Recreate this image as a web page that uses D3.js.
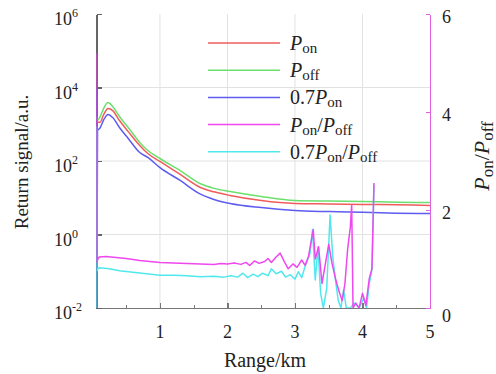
<!DOCTYPE html>
<html>
<head>
<meta charset="utf-8">
<script src="https://cdn.jsdelivr.net/npm/d3@7/dist/d3.min.js"></script>
<style>
  body { margin: 0; background: #fff; }
  .axis path, .axis line { shape-rendering: crispEdges; }
</style>
</head>
<body>
<div id="plot-container"></div>
<script>
// range (km) shared by the three signal curves
const range = [0.06, 0.065, 0.075, 0.11, 0.17, 0.23, 0.3, 0.4, 0.53, 0.7, 0.82, 1.0, 1.3, 1.6, 1.8, 2.04, 2.5, 3.0, 3.5, 4.0, 4.5, 5.0];
const pOn   = [1400, 1250, 1150, 1120, 1900, 2700, 2350, 1260, 630, 265, 160, 97, 43, 19, 14.5, 11.5, 8.4, 7.0, 6.8, 6.6, 6.4, 6.2];
const pOff  = [1600, 1400, 1300, 1550, 2800, 3900, 3030, 1620, 815, 320, 193, 117, 55, 24, 18, 14.8, 10.8, 8.4, 8.1, 7.9, 7.6, 7.4];
const p07On = [10000, 0.005, 680, 780, 1350, 1850, 1520, 815, 410, 170, 125, 66, 29.5, 12.5, 9, 7.0, 5.4, 4.5, 4.2, 4.0, 3.8, 3.7];

// ratio curves (right axis)
const ratioRange = [0.06, 0.065, 0.08, 0.1, 0.2, 0.35, 0.5, 0.7, 0.85, 1.0, 1.2, 1.4, 1.6, 1.8, 1.9, 2.0, 2.1, 2.2, 2.27, 2.33,
  2.4, 2.47, 2.55, 2.6, 2.65, 2.72, 2.78, 2.84, 2.9, 2.97, 3.03, 3.1, 3.15, 3.2, 3.27, 3.3, 3.35, 3.4, 3.45, 3.5,
  3.55, 3.6, 3.65, 3.7, 3.74, 3.78, 3.82, 3.84, 3.86, 3.9, 3.95, 4.0, 4.05, 4.1, 4.14, 4.17];
const ratio = [5.2, 0.93, 1.0, 1.04, 1.05, 1.03, 1.01, 0.97, 0.95, 0.93, 0.92, 0.91, 0.90, 0.89, 0.91, 0.90, 0.92, 0.89, 0.93, 0.87,
  0.96, 0.91, 0.95, 1.01, 0.93, 1.04, 1.12, 0.95, 0.80, 0.90, 0.83, 0.98, 0.87, 1.05, 1.6, 1.0, 1.25, 0.5, 0.9, 1.3,
  0.9, 0.6, 0.35, 0.15, 0.5, 1.2, 1.65, 2.1, 0.0, 0.1, 0.0, 0.3, 0.05, 0.6, 0.8, 2.55];

const ratio07Range = [0.06, 0.061, 0.065, 0.08, 0.1, 0.25, 0.4, 0.6, 0.8, 1.0, 1.2, 1.4, 1.6, 1.8, 1.95, 2.05, 2.15, 2.23, 2.3, 2.38,
  2.45, 2.52, 2.6, 2.65, 2.72, 2.8, 2.86, 2.93, 3.0, 3.05, 3.1, 3.15, 3.22, 3.26, 3.3, 3.34, 3.38, 3.42, 3.47, 3.52,
  3.56, 3.6, 3.64, 3.68, 3.72, 3.76, 3.82, 3.88, 3.95, 4.02, 4.06, 4.1, 4.14, 4.17];
const ratio07 = [0.0, 3.7, 0.75, 0.80, 0.82, 0.80, 0.76, 0.73, 0.70, 0.67, 0.67, 0.66, 0.64, 0.65, 0.63, 0.66, 0.63, 0.71, 0.62, 0.69,
  0.64, 0.71, 0.66, 0.80, 0.70, 0.75, 0.63, 0.68, 0.59, 0.74, 0.62, 0.85, 1.1, 1.6, 0.57, 1.24, 0.3, 0.0, 0.4, 1.9,
  1.04, 0.57, 0.16, 0.0, 0.37, 0.0, 0.0, 0.1, 0.0, 0.2, 0.0, 0.5, 0.78, 2.5];

const leftTicks = [-2, 0, 2, 4, 6];
const rightTicks = [0, 2, 4, 6];
const xTicks = [1, 2, 3, 4, 5];
const xMinor = [0.5, 1.5, 2.5, 3.5, 4.5];

const colors = { on: '#f05c5c', off: '#6ce06c', on07: '#5c5cf0', ratio: '#ee48ee', ratio07: '#50e8ee' };
const font = '"Liberation Serif", Tinos, "Times New Roman", serif';

const width = 496, height = 374;
const m = { left: 96.5, right: 430, top: 14, bottom: 308 };

const svg = d3.select('#plot-container').append('svg')
  .attr('width', width).attr('height', height)
  .attr('font-family', font);

const x = d3.scaleLinear().domain([0.06, 5]).range([m.left, m.right]);
const y = d3.scaleLog().domain([1e-2, 1e6]).range([m.bottom, m.top]);
const y2 = d3.scaleLinear().domain([0, 6]).range([m.bottom, m.top]);

// grid
svg.append('g').selectAll('line').data([1, 2, 3, 4]).enter().append('line')
  .attr('x1', d => x(d)).attr('x2', d => x(d)).attr('y1', m.top).attr('y2', m.bottom)
  .attr('stroke', '#e2e2e2').attr('stroke-width', 1);
svg.append('g').selectAll('line').data([0, 2, 4]).enter().append('line')
  .attr('x1', m.left).attr('x2', m.right).attr('y1', d => y(Math.pow(10, d))).attr('y2', d => y(Math.pow(10, d)))
  .attr('stroke', '#e2e2e2').attr('stroke-width', 1);

// axes
const xAxis = d3.axisBottom(x).tickValues(xTicks).tickSizeInner(-5).tickSizeOuter(0).tickFormat('');
svg.append('g').attr('class', 'axis').attr('transform', `translate(0,${m.bottom})`).call(xAxis)
  .call(g => g.selectAll('path, line').attr('stroke', '#777').attr('stroke-width', 1.3));
svg.append('g').attr('class', 'axis').attr('transform', `translate(0,${m.bottom})`)
  .call(d3.axisBottom(x).tickValues(xMinor).tickSizeInner(-3).tickSizeOuter(0).tickFormat(''))
  .call(g => g.select('path').remove())
  .call(g => g.selectAll('line').attr('stroke', '#777'));

const yAxis = d3.axisLeft(y).tickValues(leftTicks.map(d => Math.pow(10, d))).tickSizeInner(-5).tickSizeOuter(0).tickFormat('');
svg.append('g').attr('class', 'axis').attr('transform', `translate(${m.left},0)`).call(yAxis)
  .call(g => g.selectAll('path, line').attr('stroke', '#666').attr('stroke-width', 1.3));

const y2Axis = d3.axisRight(y2).tickValues(rightTicks).tickSizeInner(-4).tickSizeOuter(0).tickFormat('');
svg.append('g').attr('class', 'axis').attr('transform', `translate(${m.right},0)`).call(y2Axis)
  .call(g => g.selectAll('path, line').attr('stroke', '#e060e0').attr('stroke-width', 1.5));

// tick labels
svg.append('g').selectAll('text').data(xTicks).enter().append('text')
  .attr('x', d => x(d)).attr('y', 338).attr('text-anchor', 'middle')
  .attr('font-size', 18).attr('fill', '#222').text(d => d);

leftTicks.forEach(p => {
  const t = svg.append('text').attr('x', 54).attr('y', y(Math.pow(10, p)) + 11)
    .attr('font-size', 18).attr('fill', '#222');
  t.append('tspan').text('10');
  t.append('tspan').attr('font-size', 12).attr('dy', -8).text(p);
});

svg.append('g').selectAll('text').data(rightTicks).enter().append('text')
  .attr('x', 442).attr('y', d => y2(d) + (d === 0 ? 14 : 9)).attr('font-size', 18).attr('fill', '#222').text(d => d);

// axis titles
svg.append('text').attr('transform', `translate(28,${(m.top + m.bottom) / 2 + 1}) rotate(-90)`)
  .attr('text-anchor', 'middle').attr('font-size', 19).attr('fill', '#222').text('Return signal/a.u.');
svg.append('text').attr('x', 265).attr('y', 367).attr('text-anchor', 'middle')
  .attr('font-size', 20).attr('fill', '#222').text('Range/km');

const rt = svg.append('text').attr('transform', `translate(489,156) rotate(-90)`)
  .attr('text-anchor', 'middle').attr('font-size', 22).attr('fill', '#222');
rt.append('tspan').attr('font-style', 'italic').text('P');
rt.append('tspan').attr('font-size', 17).attr('dy', 4).text('on');
rt.append('tspan').attr('dy', -4).text('/');
rt.append('tspan').attr('font-style', 'italic').text('P');
rt.append('tspan').attr('font-size', 17).attr('dy', 4).text('off');

// data
svg.append('clipPath').attr('id', 'clip').append('rect')
  .attr('x', m.left).attr('y', m.top).attr('width', m.right - m.left).attr('height', m.bottom - m.top);
const plot = svg.append('g').attr('clip-path', 'url(#clip)');

const sigLine = d3.line().curve(d3.curveMonotoneX).x(d => x(d[0])).y(d => y(d[1]));
const ratioLine = d3.line().x(d => x(d[0])).y(d => y2(d[1]));

const series = [
  { vals: d3.zip(range, pOff), line: sigLine, color: colors.off },
  { vals: d3.zip(range, pOn), line: sigLine, color: colors.on },
  { vals: d3.zip(range, p07On), line: sigLine, color: colors.on07 },
  { vals: d3.zip(ratio07Range, ratio07), line: ratioLine, color: colors.ratio07 },
  { vals: d3.zip(ratioRange, ratio), line: ratioLine, color: colors.ratio }
];
series.forEach(s => {
  plot.append('path').attr('d', s.line(s.vals))
    .attr('fill', 'none').attr('stroke', s.color).attr('stroke-width', 1.5)
    .attr('stroke-linejoin', 'round');
});

// legend
const legend = [
  { c: colors.on, parts: [['P', 1], ['on', 2]] },
  { c: colors.off, parts: [['P', 1], ['off', 2]] },
  { c: colors.on07, parts: [['0.7', 0], ['P', 1], ['on', 2]] },
  { c: colors.ratio, parts: [['P', 1], ['on', 2], ['/', 0], ['P', 1], ['off', 2]] },
  { c: colors.ratio07, parts: [['0.7', 0], ['P', 1], ['on', 2], ['/', 0], ['P', 1], ['off', 2]] }
];
legend.forEach((l, i) => {
  const ly = 43 + i * 27.2;
  svg.append('line').attr('x1', 208).attr('x2', 280).attr('y1', ly).attr('y2', ly)
    .attr('stroke', l.c).attr('stroke-width', 1.5);
  const t = svg.append('text').attr('x', 290).attr('y', ly + 7).attr('font-size', 20).attr('fill', '#222');
  let sub = false;
  l.parts.forEach(([s, k]) => {
    const ts = t.append('tspan').text(s);
    if (k === 1) ts.attr('font-style', 'italic');
    if (k === 2) { ts.attr('font-size', 15).attr('dy', sub ? 0 : 3); sub = true; }
    else if (sub) { ts.attr('dy', -3); sub = false; }
  });
});
</script>
</body>
</html>
